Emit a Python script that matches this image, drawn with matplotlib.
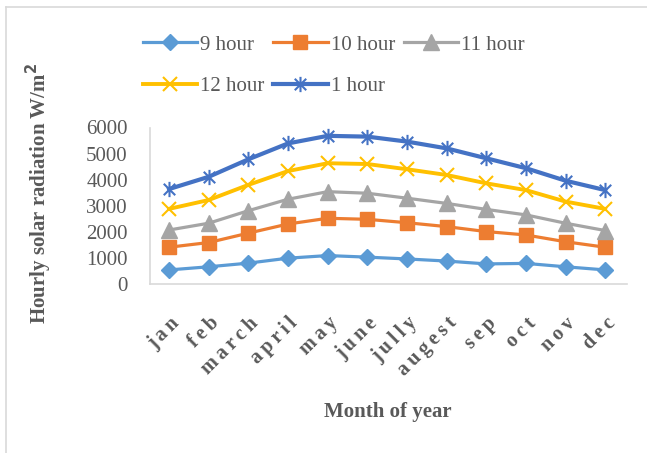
import matplotlib
matplotlib.use("Agg")
import matplotlib.pyplot as plt
from matplotlib.path import Path
from matplotlib.lines import Line2D
import numpy as np

months = ["jan", "feb", "march", "april", "may", "june", "jully", "augest", "sep", "oct", "nov", "dec"]
h9 = [540, 660, 800, 990, 1090, 1030, 960, 880, 770, 790, 660, 540]
h10 = [1410, 1590, 1950, 2300, 2520, 2480, 2350, 2200, 2010, 1880, 1620, 1410]
h11 = [2070, 2330, 2810, 3250, 3540, 3480, 3290, 3090, 2860, 2650, 2330, 2050]
h12 = [2880, 3220, 3800, 4330, 4630, 4600, 4400, 4180, 3860, 3600, 3160, 2880]
h1 = [3640, 4110, 4780, 5390, 5680, 5650, 5460, 5200, 4820, 4440, 3960, 3600]
yticks = [0, 1000, 2000, 3000, 4000, 5000, 6000]

plt.rcParams['font.family'] = ['Liberation Serif', 'DejaVu Serif']
gray = '#595959'

fig = plt.figure(figsize=(6.47, 4.53), dpi=100)
W, H = 647, 453
ax = fig.add_axes([150 / W, 1 - 284 / H, (627 - 150) / W, (284 - 127.5) / H])

# asterisk marker: X plus vertical line
star = Path([(0, -1), (0, 1), (-0.75, -0.75), (0.75, 0.75), (-0.75, 0.75), (0.75, -0.75)],
            [Path.MOVETO, Path.LINETO, Path.MOVETO, Path.LINETO, Path.MOVETO, Path.LINETO])

x = np.arange(len(months))
l9, = ax.plot(x, h9, color='#5B9BD5', lw=2.3, marker='D', ms=8.5, label='9 hour')
l10, = ax.plot(x, h10, color='#ED7D31', lw=2.3, marker='s', ms=10.5, label='10 hour')
l11, = ax.plot(x, h11, color='#A5A5A5', lw=2.3, marker='^', ms=11, label='11 hour')
l12, = ax.plot(x, h12, color='#FFC000', lw=2.8, marker='x', ms=10, mew=1.5, label='12 hour')
l1, = ax.plot(x, h1, color='#4472C4', lw=3.0, marker=star, ms=11, mew=1.5, label='1 hour')

ax.set_xlim(-0.48, 11.55)
ax.set_ylim(0, 6000)
ax.set_yticks(yticks)
ax.set_yticklabels([str(v) for v in yticks], fontsize=15, color=gray)
ax.set_xticks(x)
spaced = ['\u2009'.join(list(m)) for m in months]
ax.set_xticklabels(spaced, rotation=45, ha='right', rotation_mode='anchor',
                   fontsize=14.5, fontweight='bold', color=gray)
ax.tick_params(axis='x', length=0, pad=21)
ax.tick_params(axis='y', length=0, pad=16)
for s in ['top', 'right']:
    ax.spines[s].set_visible(False)
for s in ['left', 'bottom']:
    ax.spines[s].set_color('#D9D9D9')
    ax.spines[s].set_linewidth(1.2)

handles = [l9, l12, l10, l1, l11]
leg = fig.legend(handles=handles, labels=[h.get_label() for h in handles], ncol=3,
                 loc='upper left', bbox_to_anchor=(143 / W, 1 - 35 / H), frameon=False,
                 fontsize=15, handlelength=2.6, handletextpad=0.15, columnspacing=0.42,
                 labelspacing=1.05, borderpad=0, borderaxespad=0)
for t in leg.get_texts():
    t.set_color(gray)

fig.text(39 / W, 1 - 193 / H, 'Hourly solar radiation W/m$^{\\mathbf{2}}$', rotation=90,
         ha='center', va='center', fontsize=15, fontweight='bold', color=gray)
fig.text(388 / W, 1 - 412 / H, 'Month of year', ha='center', va='center',
         fontsize=15, fontweight='bold', color=gray)

# outer chart border (left and top visible)
fig.add_artist(Line2D([6 / W, 6 / W], [0, 1 - 7 / H], transform=fig.transFigure, color='#D9D9D9', lw=1.2))
fig.add_artist(Line2D([6 / W, 1], [1 - 7 / H, 1 - 7 / H], transform=fig.transFigure, color='#D9D9D9', lw=1.2))

fig.savefig('out.png', dpi=100)
